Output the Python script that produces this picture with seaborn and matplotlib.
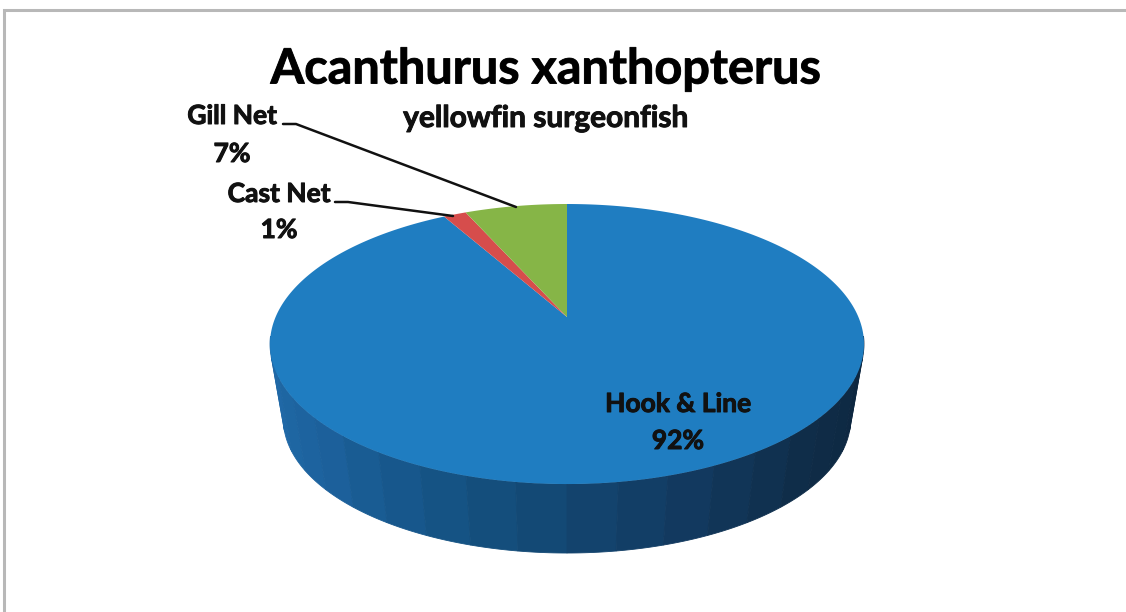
import numpy as np
import seaborn as sns
import matplotlib.pyplot as plt
import matplotlib.patheffects as pe

# shares, going clockwise from 12 o'clock
gears = ['Hook & Line', 'Cast Net', 'Gill Net']
shares = [91.8, 1.49, 6.71]
top_colors = ['#1f7dc1', '#d64d4c', '#86b547']
title = 'Acanthurus xanthopterus'
subtitle = 'yellowfin surgeonfish'

sns.set_theme(style='white')
plt.rcParams['font.family'] = ['Lato', 'DejaVu Sans']

# tilted disc: a circle seen in perspective, in pixel units
cx, cy = 567, 317
R, b, k = 291.4, 134.8, 0.193
# bottom disc of the rim
s, cy2 = 0.955, 393.5


def disc(theta, scale=1.0, yc=cy):
	w = 1 + k * np.cos(theta)
	return cx + scale * R * np.sin(theta) / w, yc - scale * b * np.cos(theta) / w


fig, ax = plt.subplots(figsize=(11.26, 6.12), dpi=100)
ax.set_position([0, 0, 1, 1])
ax.set_xlim(0, 1126)
ax.set_ylim(612, 0)
ax.axis('off')

# frame
ax.plot([4, 4, 1126], [612, 10, 10], color='#b8b8b8', lw=2.2, solid_joinstyle='miter')

# rim, in vertical bands going dark to the right
ang = np.linspace(np.radians(262), np.radians(98), 21)
rim = sns.blend_palette(['#216ba9', '#1c619c', '#14507f', '#123c63', '#0f2c48', '#0d2740'], len(ang) - 1)
for i in range(len(ang) - 1):
	t = np.linspace(ang[i], ang[i + 1], 12)
	x1, y1 = disc(t)
	x2, y2 = disc(t, s, cy2)
	ax.fill(np.r_[x1, x2[::-1]], np.r_[y1, y2[::-1]], color=rim[i], lw=0.6)

# top face
start = 0.0
for share, col in zip(shares, top_colors):
	end = start + share / sum(shares) * 2 * np.pi
	t = np.linspace(start, end, 300)
	x, y = disc(t)
	ax.fill(np.r_[cx, x], np.r_[cy, y], color=col, lw=0)
	start = end

# leader lines
ax.plot([283, 296, 516], [124, 124, 207], color='#111111', lw=1.8)
ax.plot([335, 348, 453], [202, 202, 216], color='#111111', lw=1.8)

heavy = [pe.withStroke(linewidth=0.7, foreground='#111111')]
ax.text(546, 69, title, fontsize=35, fontweight='bold', color='black', ha='center', va='center', path_effects=heavy)
ax.text(546, 118, subtitle, fontsize=21.5, fontweight='bold', color='#111111', ha='center', va='center', path_effects=heavy)

pct = [f'{v:.0f}%' for v in shares]
label_pos = [(678, 404, 441), (279, 194, 230), (232, 116, 154)]
for name, p, (lx, ly1, ly2) in zip(gears, pct, label_pos):
	ax.text(lx, ly1, name, fontsize=19, fontweight='bold', color='#111111', ha='center', va='center', path_effects=heavy)
	ax.text(lx, ly2, p, fontsize=19, fontweight='bold', color='#111111', ha='center', va='center', path_effects=heavy)

plt.savefig('out.png', dpi=100)
